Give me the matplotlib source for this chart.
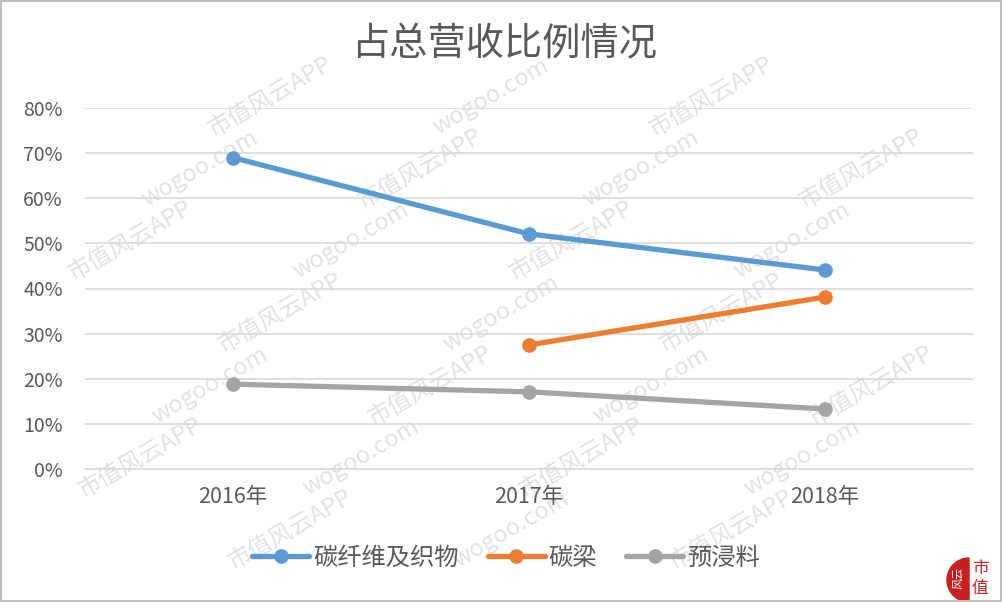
import matplotlib
matplotlib.use("Agg")
import matplotlib.pyplot as plt
from matplotlib.patches import Rectangle, Wedge

plt.rcParams['font.family'] = ['Noto Sans CJK SC', 'DejaVu Sans']

categories = ['2016年', '2017年', '2018年']
series_names = ['碳纤维及织物', '碳梁', '预浸料']
carbon_fiber = [0.690, 0.521, 0.441]
carbon_beam = [None, 0.275, 0.381]
prepreg = [0.188, 0.171, 0.133]
y_ticks = [0, 0.1, 0.2, 0.3, 0.4, 0.5, 0.6, 0.7, 0.8]
y_tick_labels = ['0%', '10%', '20%', '30%', '40%', '50%', '60%', '70%', '80%']
title = '占总营收比例情况'

colors = ['#5B9BD5', '#ED7D31', '#A5A5A5']

fig = plt.figure(figsize=(10.02, 6.02), dpi=100)
fig.patch.set_facecolor('white')

# watermark (only the copies that fit inside the figure)
wm_color = '#e2e2e2'
for row in range(-3, 12):
    for col in range(-2, 8):
        x = col * 0.22 + row * 0.07
        y = row * 0.12
        if not (0.09 < x < 0.91 and 0.08 < y < 0.93):
            continue
        txt = '市值风云APP' if (row + col) % 2 == 0 else 'wogoo.com'
        fig.text(x, y, txt, rotation=30, fontsize=17, color=wm_color,
                 ha='center', va='center', zorder=0)

ax = fig.add_axes([85 / 1002, 1 - 469 / 602, 888 / 1002, (469 - 108) / 602])
ax.set_facecolor('none')
ax.set_zorder(2)

x = list(range(len(categories)))
series = [carbon_fiber, carbon_beam, prepreg]
for name, vals, c in zip(series_names, series, colors):
    xs = [xi for xi, v in zip(x, vals) if v is not None]
    ys = [v for v in vals if v is not None]
    ax.plot(xs, ys, color=c, lw=3.8, marker='o', markersize=9.5,
            solid_capstyle='round', label=name, zorder=3)

ax.set_xlim(-0.5, 2.5)
ax.set_ylim(0, 0.8)
ax.set_yticks(y_ticks)
ax.set_yticklabels(y_tick_labels)
ax.set_xticks(x)
ax.set_xticklabels(categories)
ax.grid(axis='y', color='#D9D9D9', lw=1.2)
ax.set_axisbelow(True)
for s in ['top', 'right', 'left']:
    ax.spines[s].set_visible(False)
ax.spines['bottom'].set_color('#D9D9D9')
ax.spines['bottom'].set_linewidth(1.2)
ax.tick_params(axis='both', length=0, colors='#595959')
ax.tick_params(axis='y', labelsize=14, pad=16)
ax.tick_params(axis='x', labelsize=15.5, pad=12)

fig.text(0.503, 1 - 45 / 602, title, ha='center', va='center',
         fontsize=27.5, color='#595959', fontweight='light')

leg = fig.legend(loc='center', bbox_to_anchor=(506 / 1002, 1 - 558 / 602), ncol=3,
                 frameon=False, fontsize=17.5, handlelength=2.35,
                 columnspacing=1.2, handletextpad=0.15,
                 labelcolor='#595959')

# logo
logo_ax = fig.add_axes([940 / 1002, 0, 62 / 1002, 62 / 602])
logo_ax.set_xlim(0, 62)
logo_ax.set_ylim(0, 62)
logo_ax.axis('off')
logo_ax.add_patch(Wedge((29, 22), 22, 90, 270, color='#C8201E'))
logo_ax.text(18, 24, '风云', color='white', fontsize=8, rotation=90,
             ha='center', va='center')
logo_ax.text(40, 33, '市', color='#C8201E', fontsize=12, ha='center', va='center')
logo_ax.text(40, 14, '值', color='#C8201E', fontsize=12, ha='center', va='center')

fig.patches.append(Rectangle((0.0005, 0.001), 0.999, 0.998, transform=fig.transFigure,
                             fill=False, edgecolor='#BFBFBF', lw=1.5))

fig.savefig('out.png', dpi=100, facecolor='white')
